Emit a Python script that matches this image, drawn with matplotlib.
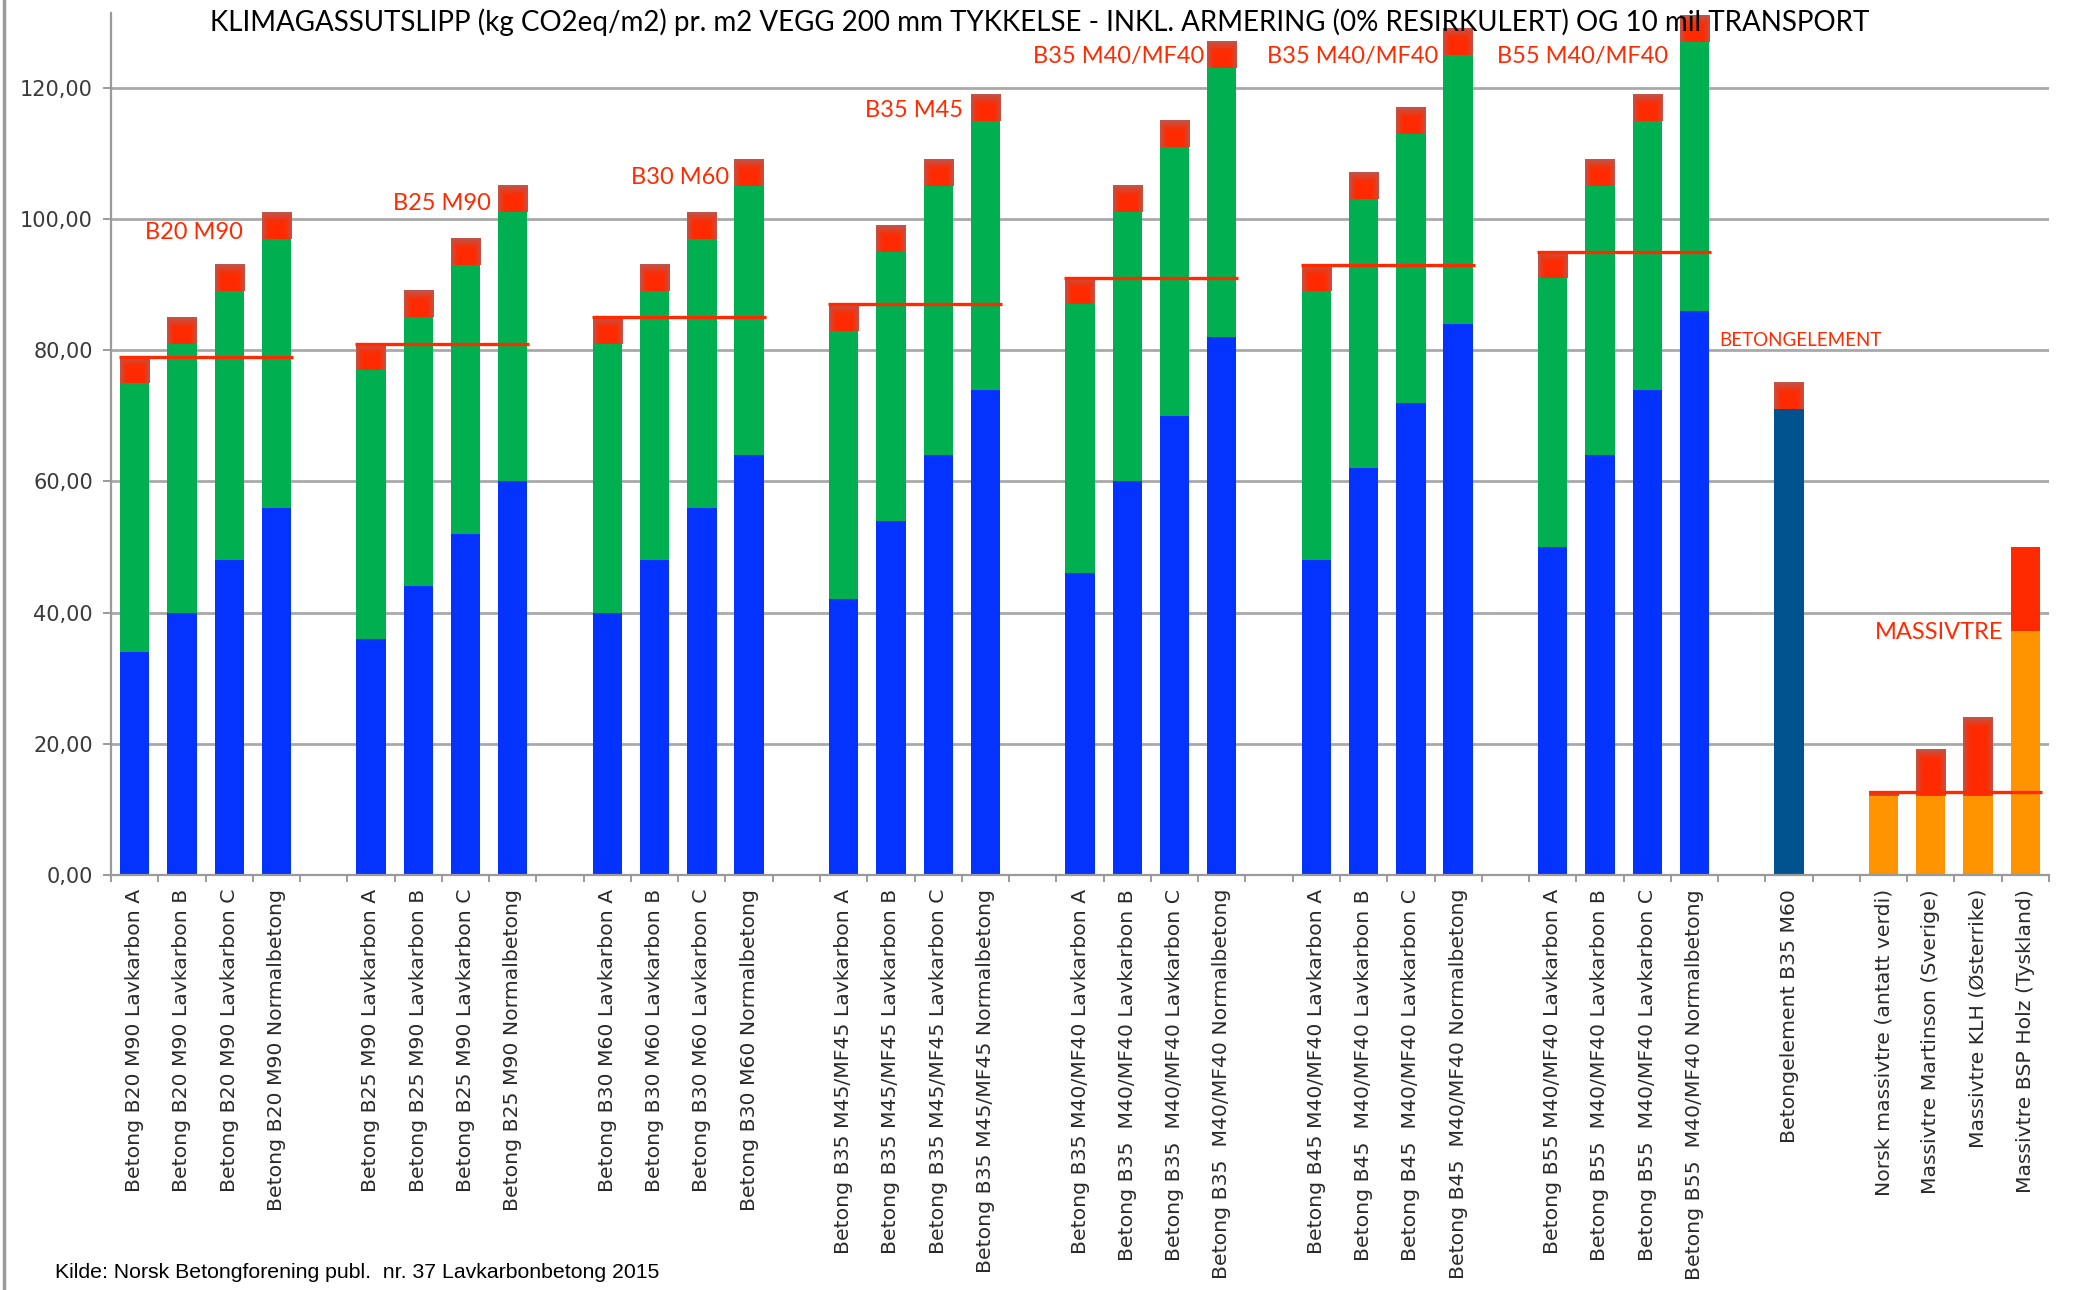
import numpy as np
import matplotlib
matplotlib.use("Agg")
import matplotlib.pyplot as plt
from matplotlib.lines import Line2D
from matplotlib.colors import to_rgb

# ---------------- data ----------------
group_names = ["B20 M90", "B25 M90", "B30 M60", "B35 M45",
               "B35 M40/MF40", "B35 M40/MF40", "B55 M40/MF40"]

group_ticks = [
    ["Betong B20 M90 Lavkarbon A", "Betong B20 M90 Lavkarbon B",
     "Betong B20 M90 Lavkarbon C", "Betong B20 M90 Normalbetong"],
    ["Betong B25 M90 Lavkarbon A", "Betong B25 M90 Lavkarbon B",
     "Betong B25 M90 Lavkarbon C", "Betong B25 M90 Normalbetong"],
    ["Betong B30 M60 Lavkarbon A", "Betong B30 M60 Lavkarbon B",
     "Betong B30 M60 Lavkarbon C", "Betong B30 M60 Normalbetong"],
    ["Betong B35 M45/MF45 Lavkarbon A", "Betong B35 M45/MF45 Lavkarbon B",
     "Betong B35 M45/MF45 Lavkarbon C", "Betong B35 M45/MF45 Normalbetong"],
    ["Betong B35 M40/MF40 Lavkarbon A", "Betong B35  M40/MF40 Lavkarbon B",
     "Betong B35  M40/MF40 Lavkarbon C", "Betong B35  M40/MF40 Normalbetong"],
    ["Betong B45 M40/MF40 Lavkarbon A", "Betong B45  M40/MF40 Lavkarbon B",
     "Betong B45  M40/MF40 Lavkarbon C", "Betong B45  M40/MF40 Normalbetong"],
    ["Betong B55 M40/MF40 Lavkarbon A", "Betong B55  M40/MF40 Lavkarbon B",
     "Betong B55  M40/MF40 Lavkarbon C", "Betong B55  M40/MF40 Normalbetong"],
]

# blue (lower) segment of each concrete bar
concrete_blue = [
    [34, 40, 48, 56],
    [36, 44, 52, 60],
    [40, 48, 56, 64],
    [42, 54, 64, 74],
    [46, 60, 70, 82],
    [48, 62, 72, 84],
    [50, 64, 74, 86],
]
# green (middle) segment
concrete_green = [
    [41, 41, 41, 41],
    [41, 41, 41, 41],
    [41, 41, 41, 41],
    [41, 41, 41, 41],
    [41, 41, 41, 41],
    [41, 41, 41, 41],
    [41, 41, 41, 41],
]
# red (top) segment
concrete_red = [
    [4, 4, 4, 4],
    [4, 4, 4, 4],
    [4, 4, 4, 4],
    [4, 4, 4, 4],
    [4, 4, 4, 4],
    [4, 4, 4, 4],
    [4, 4, 4, 4],
]

element_tick = "Betongelement B35 M60"
element_base = 71
element_red = 4

timber_ticks = ["Norsk massivtre (antatt verdi)", "Massivtre Martinson (Sverige)",
                "Massivtre KLH (Østerrike)", "Massivtre BSP Holz (Tyskland)"]
timber_base = [12, 12, 12, 37.2]
timber_red = [0.7, 7.1, 12.0, 12.8]
timber_shaded = [True, True, True, False]

yticks = [0, 20, 40, 60, 80, 100, 120]

title = ("KLIMAGASSUTSLIPP (kg CO2eq/m2) pr. m2 VEGG 200 mm TYKKELSE - "
         "INKL. ARMERING (0% RESIRKULERT) OG 10 mil TRANSPORT")
source = "Kilde: Norsk Betongforening publ.  nr. 37 Lavkarbonbetong 2015"

# ---------------- style ----------------
C_BLUE = "#0433ff"
C_GREEN = "#00b050"
C_RED = "#ff2a00"
C_EDGE = "#b95a52"
C_ORANGE = "#ff9300"
C_DARKBLUE = "#01538f"
C_GRID = "#a9a9a9"
C_LABEL = "#ff2a00"

W, H, DPI = 2073, 1290, 100
BAR_W = 0.62

fig = plt.figure(figsize=(W / DPI, H / DPI), dpi=DPI)
ax = fig.add_axes([111 / W, 1 - 875 / H, (2049 - 111) / W, (875 - 13) / H])

# ---------------- layout of slots ----------------
positions, labels = [], []
group_pos = []
x = 0
for ticks in group_ticks:
    gp = []
    for t in ticks:
        positions.append(x)
        labels.append(t)
        gp.append(x)
        x += 1
    group_pos.append(gp)
    x += 1
element_pos = x
positions.append(x)
labels.append(element_tick)
x += 2
timber_pos = []
for t in timber_ticks:
    positions.append(x)
    labels.append(t)
    timber_pos.append(x)
    x += 1
n_slots = x

ax.set_xlim(-0.5, n_slots - 0.5)
ax.set_ylim(0, 131.4)
ax.autoscale(False)

red_patches = []

# concrete groups
for gp, b, g, r in zip(group_pos, concrete_blue, concrete_green, concrete_red):
    b = np.array(b, float)
    g = np.array(g, float)
    r = np.array(r, float)
    ax.bar(gp, b, width=BAR_W, color=C_BLUE, zorder=2, linewidth=0)
    ax.bar(gp, g, bottom=b, width=BAR_W, color=C_GREEN, zorder=2, linewidth=0)
    bars = ax.bar(gp, r, bottom=b + g, width=BAR_W, color=C_RED, zorder=2, linewidth=0)
    red_patches += list(bars.patches)

# precast element
ax.bar([element_pos], [element_base], width=BAR_W, color=C_DARKBLUE, zorder=2, linewidth=0)
bars = ax.bar([element_pos], [element_red], bottom=[element_base], width=BAR_W,
              color=C_RED, zorder=2, linewidth=0)
red_patches += list(bars.patches)

# solid timber
tb = np.array(timber_base, float)
tr = np.array(timber_red, float)
ax.bar(timber_pos, tb, width=BAR_W, color=C_ORANGE, zorder=2, linewidth=0)
bars = ax.bar(timber_pos, tr, bottom=tb, width=BAR_W, color=C_RED, zorder=2, linewidth=0)
for p, s in zip(bars.patches, timber_shaded):
    if s:
        red_patches.append(p)

# soft darker edge on the red caps
fig.canvas.draw()
px_x = ax.transData.transform((1, 0))[0] - ax.transData.transform((0, 0))[0]
px_y = ax.transData.transform((0, 1))[1] - ax.transData.transform((0, 0))[1]
red_rgb = np.array(to_rgb(C_RED))
edge_rgb = np.array(to_rgb(C_EDGE))
for p in red_patches:
    x0, y0 = p.get_x(), p.get_y()
    w, h = p.get_width(), p.get_height()
    pw, ph = w * px_x, h * px_y
    nx = max(int(pw * 2), 2)
    ny = max(int(ph * 2), 2)
    xs = (np.arange(nx) + 0.5) / nx * pw
    ys = (np.arange(ny) + 0.5) / ny * ph  # distance from top
    XX, YY = np.meshgrid(xs, ys)
    d_side = np.minimum(XX, pw - XX)
    e_top = np.clip(1 - YY / 11.0, 0, 1) ** 1.3
    e_side = np.clip(1 - d_side / 7.0, 0, 1) ** 1.3
    e = np.clip(np.maximum(e_top, e_side * 0.9), 0, 1)[..., None]
    img = red_rgb * (1 - e) + edge_rgb * e
    ax.imshow(img, extent=(x0, x0 + w, y0, y0 + h), aspect="auto",
              interpolation="bilinear", zorder=2.5, origin="upper")

ax.set_xlim(-0.5, n_slots - 0.5)
ax.set_ylim(0, 131.4)

# reference lines at the level of the first bar in each series
for gp, b, g, r in zip(group_pos, concrete_blue, concrete_green, concrete_red):
    lvl = b[0] + g[0] + r[0]
    ax.hlines(lvl, gp[0] - BAR_W / 2 - 0.02, gp[-1] + BAR_W / 2 + 0.04,
              color=C_RED, lw=2.4, zorder=3)
lvl = timber_base[0] + timber_red[0] - 0.05
ax.hlines(lvl, timber_pos[0] - BAR_W / 2, timber_pos[-1] + BAR_W / 2 + 0.04,
          color=C_RED, lw=2.4, zorder=3)

# series labels
lab_font = ["Lato", "DejaVu Sans"]
label_spec = [
    (1.26, 97.9, "center"),
    (6.5, 102.4, "center"),
    (11.53, 106.4, "center"),
    (16.49, 116.6, "center"),
    (22.62, 124.7, "right"),
    (27.57, 124.7, "right"),
    (32.44, 124.7, "right"),
]
for name, (lx, ly, ha) in zip(group_names, label_spec):
    ax.text(lx, ly, name, color=C_LABEL, fontsize=17, family=lab_font,
            ha=ha, va="center", zorder=4)
ax.text(33.52, 81.5, "BETONGELEMENT", color=C_LABEL, fontsize=13.5, family=lab_font,
        ha="left", va="center", zorder=4)
ax.text(36.82, 37.0, "MASSIVTRE", color=C_LABEL, fontsize=17, family=lab_font,
        ha="left", va="center", zorder=4)

# axes styling
for s in ["top", "right"]:
    ax.spines[s].set_visible(False)
for s in ["left", "bottom"]:
    ax.spines[s].set_color("#9a9a9a")
    ax.spines[s].set_linewidth(1.6)
ax.set_axisbelow(True)
ax.yaxis.grid(True, color=C_GRID, lw=2.0, zorder=0)
ax.set_yticks(yticks)
ax.set_yticklabels([f"{v:.2f}".replace(".", ",") for v in yticks])
ax.tick_params(axis="y", direction="out", length=6, width=1.4, color="#9a9a9a",
               labelsize=15, labelcolor="#3a3a3a", pad=7)
ax.set_xticks(positions)
ax.set_xticklabels(labels, rotation=90, va="top", ha="center")
ax.tick_params(axis="x", length=0, labelsize=14.7, labelcolor="#2a2a2a", pad=10)
ax.set_xticks(np.arange(-0.5, n_slots, 1.0), minor=True)
ax.tick_params(axis="x", which="minor", direction="out", length=5, width=1.4,
               color="#9a9a9a")

# title, source and left rule
fig.text(1040 / W, 1 - 22 / H, title, ha="center", va="center", fontsize=20,
         family=lab_font, color="#000000")
fig.text(55 / W, 1 - 1273 / H, source, ha="left", va="center", fontsize=15.3,
         family=["Liberation Sans", "DejaVu Sans"], color="#000000")
fig.add_artist(Line2D([4 / W, 4 / W], [0, 1], transform=fig.transFigure,
                      color="#9a9a9a", lw=2.5))

fig.savefig("out.png", dpi=DPI)
